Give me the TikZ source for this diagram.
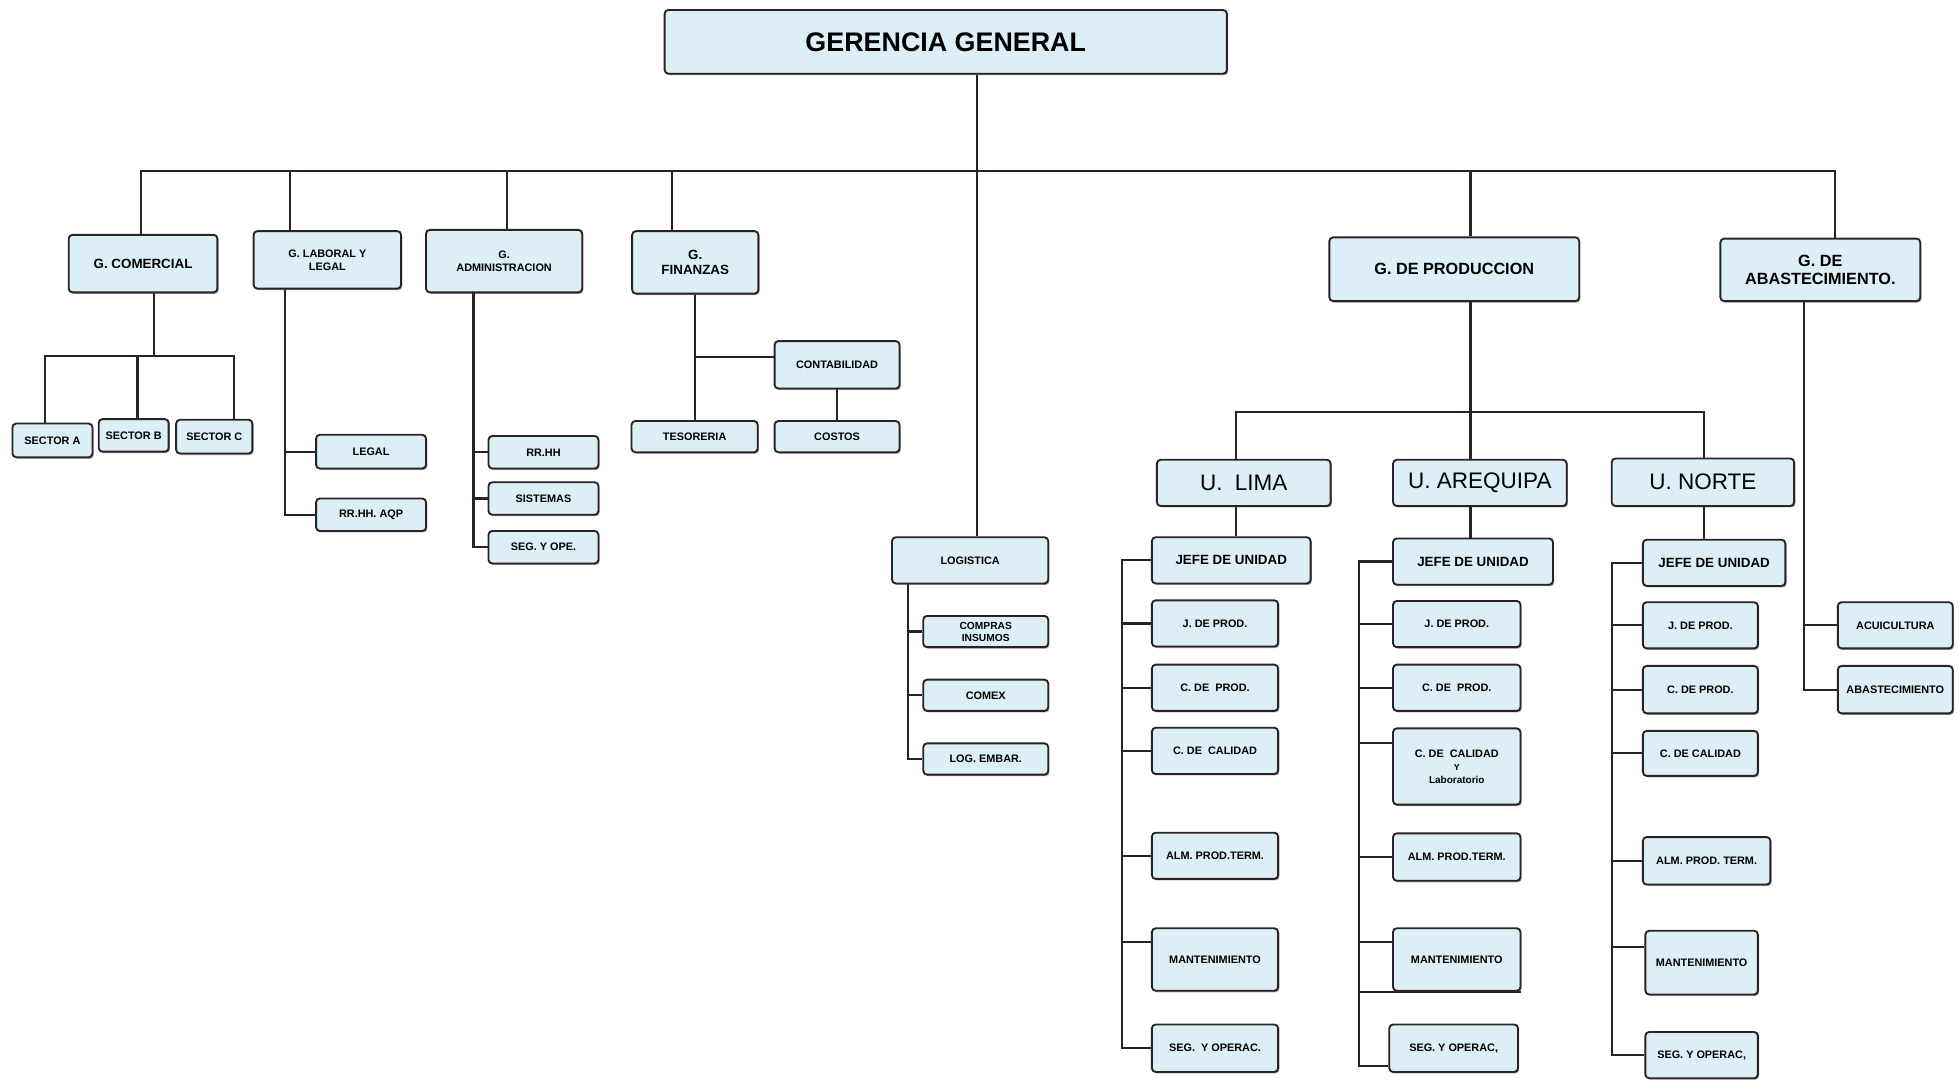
\documentclass[tikz,border=0pt]{standalone}
\usepackage{fontspec}
\setmainfont{Liberation Sans}
\usetikzlibrary{shadows}
\definecolor{bc}{HTML}{DCEEF6}
\definecolor{lc}{HTML}{2A2224}

\begin{document}
\begin{tikzpicture}[x=1pt, y=-1pt,
box/.style={draw=lc, line width=1.5pt, fill=bc, rounded corners=3pt, inner sep=1pt, align=center,
	drop shadow={shadow xshift=1pt, shadow yshift=-1.2pt, fill=black!60, opacity=.6}},
sz/.style 2 args={minimum width=#1pt, minimum height=#2pt},
sm/.style={box, font=\bfseries\fontsize{8.7}{10.5}\selectfont},
md/.style={box, font=\bfseries\fontsize{10.7}{12.5}\selectfont},
lg/.style={box, font=\bfseries\fontsize{13}{15}\selectfont},
un/.style={box, font=\fontsize{18}{20}\selectfont},
ln/.style={draw=lc, line width=1.8pt}]
	\fill[white] (0,0) rectangle (1568,864);
	\useasboundingbox (0,0) rectangle (1568,864);

	\node[box, font=\bfseries\fontsize{21.5}{24}\selectfont, sz={450}{51}] at (757,33.5) (gg) {GERENCIA GENERAL};

	\node[md, sz={119}{46}] at (114.5,211) (gcom) {G. COMERCIAL};
	\node[sm, sz={118}{46}] at (262,208) (glab) {G. LABORAL Y\\LEGAL};
	\node[sm, sz={125}{50}] at (403.5,209) (gadm) {G.\\ADMINISTRACION};
	\node[md, sz={101}{50}] at (556.5,210) (gfin) {G.\\FINANZAS};
	\node[sm, sz={125}{37}] at (776.5,448.5) (log) {LOGISTICA};
	\node[lg, sz={200}{51}] at (1164,215.5) (gprod) {G. DE PRODUCCION};
	\node[lg, sz={160}{50}] at (1457,216) (gabas) {G. DE\\ABASTECIMIENTO.};

	\node[sm, sz={64}{27}] at (42,352.5) (seca) {SECTOR A};
	\node[sm, sz={56}{26}] at (107,348.5) (secb) {SECTOR B};
	\node[sm, sz={61}{27}] at (171.5,349.5) (secc) {SECTOR C};

	\node[sm, sz={88}{27}] at (297,361.5) (legal) {LEGAL};
	\node[sm, sz={88}{26}] at (297,412) (rrhhaqp) {RR.HH. AQP};
	\node[sm, sz={88}{26}] at (435,362) (rrhh) {RR.HH};
	\node[sm, sz={88}{26}] at (435,399) (sist) {SISTEMAS};
	\node[sm, sz={88}{26}] at (435,438) (segope) {SEG. Y OPE.};

	\node[sm, sz={100}{38}] at (670,292) (cont) {CONTABILIDAD};
	\node[sm, sz={101}{25}] at (556,349.5) (teso) {TESORERIA};
	\node[sm, sz={100}{25}] at (670,349.5) (costos) {COSTOS};

	\node[sm, sz={100}{25}, font=\bfseries\fontsize{8.2}{9.5}\selectfont] at (789,505.5) (compras) {COMPRAS\\INSUMOS};
	\node[sm, sz={100}{25}] at (789,556.5) (comex) {COMEX};
	\node[sm, sz={100}{25}] at (789,607.5) (embar) {LOG. EMBAR.};

	\node[un, sz={139}{37}] at (995.5,386.5) (ulima) {U.~ LIMA};
	\node[un, sz={139}{37}] at (1184.5,386.5) (uareq) {U. AREQUIPA};
	\node[un, sz={146}{38}] at (1363,386) (unorte) {U. NORTE};

	\node[md, sz={127}{37}] at (985.5,448.5) (jefel) {JEFE DE UNIDAD};
	\node[sm, sz={101}{37}] at (972.5,499) (jpl) {J. DE PROD.};
	\node[sm, sz={101}{37}] at (972.5,550.5) (cpl) {C. DE~ PROD.};
	\node[sm, sz={101}{37}] at (972.5,601) (ccl) {C. DE~ CALIDAD};
	\node[sm, sz={101}{37}] at (972.5,685) (alml) {ALM. PROD.TERM.};
	\node[sm, sz={101}{50}] at (972.5,768) (mantl) {MANTENIMIENTO};
	\node[sm, sz={101}{38}] at (972.5,839) (segl) {SEG.~ Y OPERAC.};

	\node[md, sz={128}{37}] at (1179,449.5) (jefea) {JEFE DE UNIDAD};
	\node[sm, sz={102}{37}] at (1166,499.5) (jpa) {J. DE PROD.};
	\node[sm, sz={102}{37}] at (1166,550.5) (cpa) {C. DE~ PROD.};
	\node[sm, sz={102}{61}] at (1166,613.5) (cca) {C. DE~ CALIDAD\\{\fontsize{7}{9}\selectfont Y}\\{\fontsize{8}{9}\selectfont Laboratorio}};
	\node[sm, sz={102}{38}] at (1166,686) (alma) {ALM. PROD.TERM.};
	\node[sm, sz={102}{50}] at (1166,768) (manta) {MANTENIMIENTO};
	\node[sm, sz={103}{38}] at (1163.5,839) (sega) {SEG. Y OPERAC,};

	\node[md, sz={114}{37}] at (1372,450.5) (jefen) {JEFE DE UNIDAD};
	\node[sm, sz={92}{37}] at (1361,500.5) (jpn) {J. DE PROD.};
	\node[sm, sz={92}{38}] at (1361,552) (cpn) {C. DE PROD.};
	\node[sm, sz={92}{36}] at (1361,603) (ccn) {C. DE CALIDAD};
	\node[sm, sz={102}{38}] at (1366,689) (almn) {ALM. PROD. TERM.};
	\node[sm, sz={90}{51}] at (1362,770.5) (mantn) {MANTENIMIENTO};
	\node[sm, sz={90}{37}] at (1362,844.5) (segn) {SEG. Y OPERAC,};

	\node[sm, sz={92}{37}] at (1517,500.5) (acui) {ACUICULTURA};
	\node[sm, sz={92}{38}] at (1517,552) (abas) {ABASTECIMIENTO};

	\coordinate (hub) at (782,137);
	\coordinate (t1) at (113,137);
	\coordinate (t2) at (232,137);
	\coordinate (t3) at (406,137);
	\coordinate (t4) at (538,137);
	\coordinate (t6) at (1177,137);
	\coordinate (t7) at (1469,137);
	\draw[ln] (t1 |- gcom.north) -- (t1) -- (t7) -- (t7 |- gabas.north);
	\draw[ln] (hub |- gg.south) -- (hub |- log.north);
	\draw[ln] (t2) -- (t2 |- glab.north);
	\draw[ln] (t3) -- (t3 |- gadm.north);
	\draw[ln] (t4) -- (t4 |- gfin.north);
	\draw[ln] (t6) -- (t6 |- gprod.north);

	\coordinate (c0) at (123,285);
	\coordinate (c1) at (36,285);
	\coordinate (c2) at (110,285);
	\coordinate (c3) at (187,285);
	\draw[ln] (c0 |- gcom.south) -- (c0);
	\draw[ln] (c1 |- seca.north) -- (c1) -- (c3) -- (c3 |- secc.north);
	\draw[ln] (c2) -- (c2 |- secb.north);

	\coordinate (vl) at (228,300);
	\draw[ln] (vl |- glab.south) -- (vl |- rrhhaqp.west) -- (rrhhaqp.west);
	\draw[ln] (vl |- legal.west) -- (legal.west);

	\coordinate (va) at (379,300);
	\draw[ln] (va |- gadm.south) -- (va |- segope.west) -- (segope.west);
	\draw[ln] (va |- rrhh.west) -- (rrhh.west);
	\draw[ln] (va |- sist.west) -- (sist.west);

	\coordinate (fb) at (556,286);
	\draw[ln] (fb |- gfin.south) -- (fb |- teso.north);
	\draw[ln] (fb) -- (fb -| cont.west);
	\draw[ln] (cont.south) -- (costos.north);

	\coordinate (vg) at (727,500);
	\draw[ln] (vg |- log.south) -- (vg |- embar.west) -- (embar.west);
	\draw[ln] (vg |- compras.west) -- (compras.west);
	\draw[ln] (vg |- comex.west) -- (comex.west);

	\coordinate (p0) at (1177,330);
	\coordinate (p1) at (989,330);
	\coordinate (p2) at (1364,330);
	\draw[ln] (p0 |- gprod.south) -- (p0 |- uareq.north);
	\draw[ln] (p1 |- ulima.north) -- (p1) -- (p2) -- (p2 |- unorte.north);
	\draw[ln] (p1 |- ulima.south) -- (p1 |- jefel.north);
	\draw[ln] (p0 |- uareq.south) -- (p0 |- jefea.north);
	\draw[ln] (p2 |- unorte.south) -- (p2 |- jefen.north);

	\coordinate (vL) at (898,600);
	\draw[ln] (jefel.west) -- (vL |- jefel.west) -- (vL |- segl.west) -- (segl.west);
	\draw[ln] (vL |- jpl.west) -- (jpl.west);
	\draw[ln] (vL |- cpl.west) -- (cpl.west);
	\draw[ln] (vL |- ccl.west) -- (ccl.west);
	\draw[ln] (vL |- alml.west) -- (alml.west);
	\draw[ln] (vL |- mantl.165) -- (mantl.165);

	\coordinate (vA) at (1088,600);
	\draw[ln] (jefea.west) -- (vA |- jefea.west) -- (vA |- sega.195) -- (sega.195);
	\draw[ln] (vA |- jpa.west) -- (jpa.west);
	\draw[ln] (vA |- cpa.west) -- (cpa.west);
	\draw[ln] (vA |- cca.160) -- (cca.160);
	\draw[ln] (vA |- alma.west) -- (alma.west);
	\draw[ln] (vA |- manta.165) -- (manta.165);
	\draw[ln] (vA |- manta.south west) -- (manta.south east);

	\coordinate (vN) at (1290,600);
	\draw[ln] (jefen.west) -- (vN |- jefen.west) -- (vN |- segn.west) -- (segn.west);
	\draw[ln] (vN |- jpn.west) -- (jpn.west);
	\draw[ln] (vN |- cpn.west) -- (cpn.west);
	\draw[ln] (vN |- ccn.west) -- (ccn.west);
	\draw[ln] (vN |- almn.west) -- (almn.west);
	\draw[ln] (vN |- mantn.165) -- (mantn.165);

	\coordinate (vB) at (1444,400);
	\draw[ln] (vB |- gabas.south) -- (vB |- abas.west) -- (abas.west);
	\draw[ln] (vB |- acui.west) -- (acui.west);
\end{tikzpicture}
\end{document}
